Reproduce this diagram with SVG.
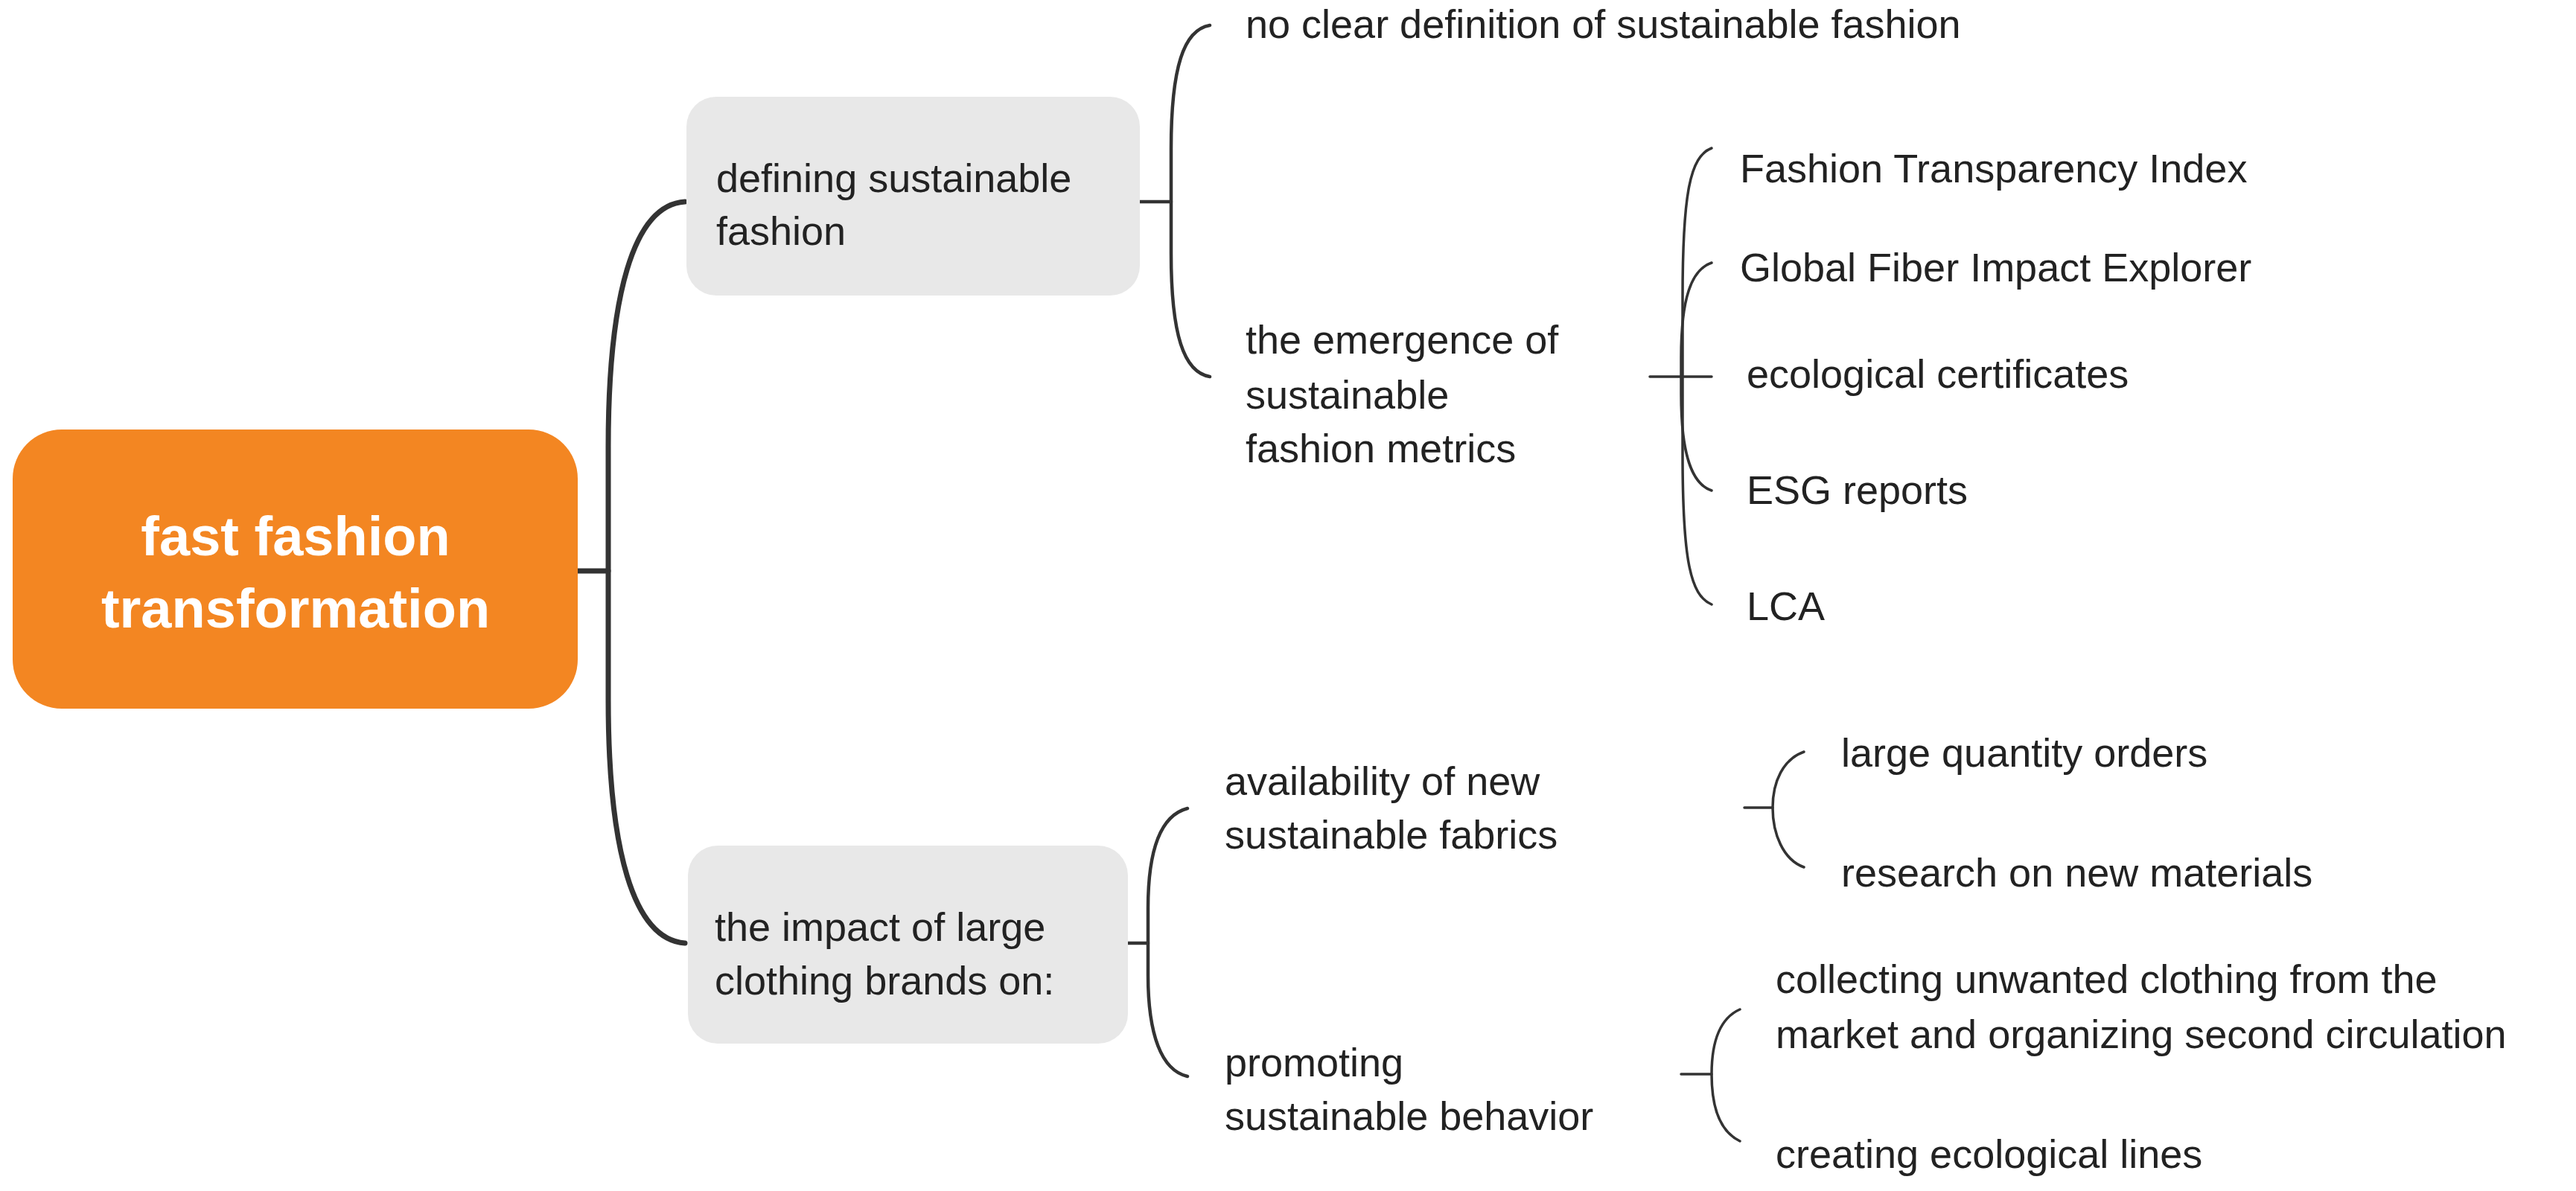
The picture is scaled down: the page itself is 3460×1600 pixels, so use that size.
<svg xmlns="http://www.w3.org/2000/svg" width="3460" height="1600" viewBox="0 0 3460 1600">
<style>
.t{font-family:"Liberation Sans",Arial,sans-serif;font-size:54px;fill:#222}
.b{fill:#e8e8e8}
.c{fill:none;stroke:#333;stroke-linecap:round}
.w1{stroke-width:7}.w2{stroke-width:4.5}.w3{stroke-width:3.5}
</style>
<rect width="3460" height="1600" fill="#fff"/>
<g id="connectors">
<path class="c w1" d="M776 767H817"/>
<path class="c w1" d="M920 271C850 275 817 400 817 600V940C817 1140 850 1262 920 1267"/>
<path class="c w2" d="M1531 271H1573"/>
<path class="c w2" d="M1625 34C1590 40 1573 90 1573 200V340C1573 450 1590 500 1625 506"/>
<path class="c w2" d="M1515 1267H1542"/>
<path class="c w2" d="M1595 1086C1560 1095 1542 1140 1542 1220V1310C1542 1390 1560 1438 1595 1446"/>
<path class="c w3" d="M2216 506H2299"/>
<path class="c w3" d="M2299 199C2270 210 2260 260 2260 400V610C2260 750 2270 800 2299 812"/>
<path class="c w3" d="M2299 353C2272 362 2258 400 2258 480V530C2258 610 2272 650 2299 659"/>
<path class="c w3" d="M2343 1085H2381"/>
<path class="c w3" d="M2423 1010C2395 1020 2381 1050 2381 1085C2381 1120 2395 1155 2423 1165"/>
<path class="c w3" d="M2258 1443H2299"/>
<path class="c w3" d="M2337 1356C2310 1368 2299 1400 2299 1443C2299 1486 2310 1520 2337 1533"/>
</g>
<g id="root">
<rect x="17" y="577" width="759" height="375" rx="66" fill="#f38622"/>
<text x="397" y="746" text-anchor="middle" style="font-family:'Liberation Sans',Arial,sans-serif;font-size:74px;font-weight:bold;fill:#fff">fast fashion</text>
<text x="397" y="843" text-anchor="middle" style="font-family:'Liberation Sans',Arial,sans-serif;font-size:74px;font-weight:bold;fill:#fff">transformation</text>
</g>
<g id="n-defining">
<rect class="b" x="922" y="130" width="609" height="267" rx="40"/>
<text class="t" x="962" y="258">defining sustainable</text>
<text class="t" x="962" y="329">fashion</text>
</g>
<g id="n-impact">
<rect class="b" x="924" y="1136" width="591" height="266" rx="40"/>
<text class="t" x="960" y="1264">the impact of large</text>
<text class="t" x="960" y="1336">clothing brands on:</text>
</g>
<g id="n-noclear"><text class="t" x="1673" y="51">no clear definition of sustainable fashion</text></g>
<g id="n-emergence">
<text class="t" x="1673" y="475">the emergence of</text>
<text class="t" x="1673" y="549">sustainable</text>
<text class="t" x="1673" y="621">fashion metrics</text>
</g>
<g id="n-fti"><text class="t" x="2337" y="245">Fashion Transparency Index</text></g>
<g id="n-gfie"><text class="t" x="2337" y="378">Global Fiber Impact Explorer</text></g>
<g id="n-eco"><text class="t" x="2346" y="521">ecological certificates</text></g>
<g id="n-esg"><text class="t" x="2346" y="677">ESG reports</text></g>
<g id="n-lca"><text class="t" x="2346" y="833">LCA</text></g>
<g id="n-avail">
<text class="t" x="1645" y="1068">availability of new</text>
<text class="t" x="1645" y="1140">sustainable fabrics</text>
</g>
<g id="n-promo">
<text class="t" x="1645" y="1446">promoting</text>
<text class="t" x="1645" y="1518">sustainable behavior</text>
</g>
<g id="n-large"><text class="t" x="2473" y="1030">large quantity orders</text></g>
<g id="n-research"><text class="t" x="2473" y="1191">research on new materials</text></g>
<g id="n-collect">
<text class="t" x="2385" y="1334">collecting unwanted clothing from the</text>
<text class="t" x="2385" y="1408">market and organizing second circulation</text>
</g>
<g id="n-creating"><text class="t" x="2385" y="1569">creating ecological lines</text></g>
</svg>
